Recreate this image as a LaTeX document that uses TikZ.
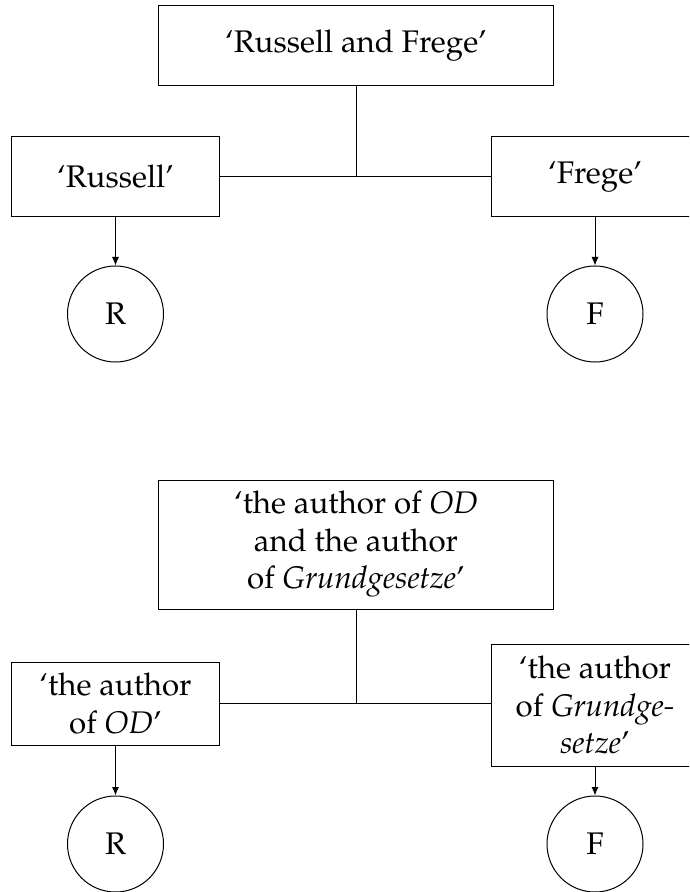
\documentclass[tikz,border=0pt]{standalone}
\IfFileExists{mathpazo.sty}{\usepackage[T1]{fontenc}\usepackage{mathpazo}}{%
  \IfFileExists{palatino.sty}{\usepackage[T1]{fontenc}\usepackage{palatino}}{}}
\usetikzlibrary{arrows.meta}

\tikzset{
  termbox/.style={draw, rectangle, inner sep=0pt, align=center,
    font=\fontsize{12.5}{15}\selectfont},
  refcircle/.style={draw, circle, inner sep=0pt, minimum size=38.4pt,
    font=\fontsize{12.5}{15}\selectfont},
  link/.style={line width=0.4pt},
  refers/.style={line width=0.4pt, -{Latex[length=3.4pt,width=2.8pt]}}
}

\begin{document}
\begin{tikzpicture}[x=0.4pt, y=-0.4pt]
  \useasboundingbox (0,0) rectangle (689,892);
  \clip (0,0) rectangle (689,892);

  % Upper tree: proper names
  \node[termbox, minimum width=157.6pt, minimum height=32pt] (whole1) at (356,46) {`Russell and Frege'};
  \node[termbox, minimum width=82.8pt, minimum height=32pt] (russ1) at (115.5,177) {`Russell'};
  \node[termbox, minimum width=83.2pt, minimum height=32pt] (freg1) at (595,177) {`Frege'};
  \node[refcircle] (r1) at (115.5,314) {R};
  \node[refcircle] (f1) at (595,314) {F};
  \coordinate (join1) at (whole1.south |- russ1.east);

  \draw[link] (russ1.east) -- (freg1.west);
  \draw[link] (whole1.south) -- (join1);
  \draw[refers] (russ1.south) -- (r1.north);
  \draw[refers] (freg1.south) -- (f1.north);

  % Lower tree: definite descriptions
  \node[termbox, minimum width=157.6pt, minimum height=51.6pt] (whole2) at (356,544.5)
    {`the author of \emph{OD}\\ and the author\\ of \emph{Grundgesetze}'};
  \node[termbox, minimum width=82.8pt, minimum height=33.2pt] (russ2) at (115.5,703.5)
    {`the author\\ of \emph{OD}'};
  \node[termbox, minimum width=83.2pt, minimum height=48.8pt] (freg2) at (595,705)
    {`the author\\ of \emph{Grundge-}\\ \emph{setze}'};
  \node[refcircle] (r2) at (115.5,844) {R};
  \node[refcircle] (f2) at (595,844) {F};
  \coordinate (join2) at (whole2.south |- russ2.east);

  \draw[link] (russ2.east) -- (freg2.west |- russ2.east);
  \draw[link] (whole2.south) -- (join2);
  \draw[refers] (russ2.south) -- (r2.north);
  \draw[refers] (freg2.south) -- (f2.north);
\end{tikzpicture}
\end{document}
